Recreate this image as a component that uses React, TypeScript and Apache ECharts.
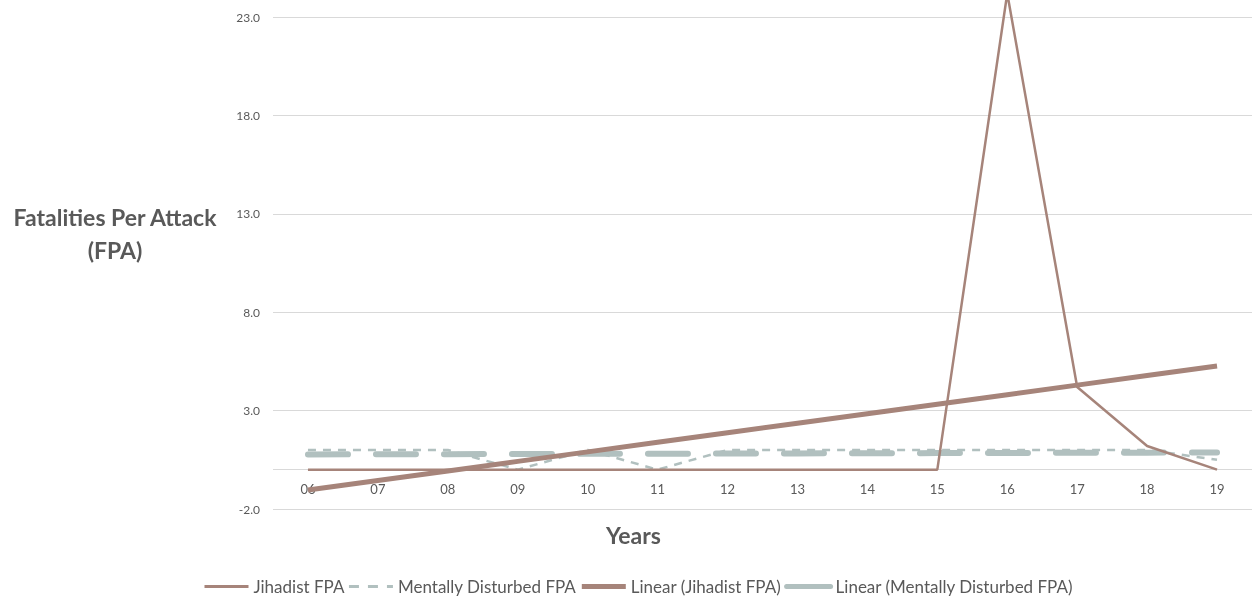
import React, { useEffect, useRef } from "react";
import * as echarts from "echarts";

const years = ["06", "07", "08", "09", "10", "11", "12", "13", "14", "15", "16", "17", "18", "19"];
const jihadistFPA = [0, 0, 0, 0, 0, 0, 0, 0, 0, 0, 24.2, 4.2, 1.2, 0];
const mentallyDisturbedFPA = [1, 1, 1, 0, 1, 0, 1, 1, 1, 1, 1, 1, 1, 0.5];

const BROWN = "#A6847A";
const GRAY = "#B1C0BF";
const TEXT = "#595959";
const FONT = "Lato, 'Open Sans', sans-serif";

function linearTrend(values: number[]): number[] {
  const n = values.length;
  const xs = values.map((_, i) => i);
  const mx = xs.reduce((a, b) => a + b, 0) / n;
  const my = values.reduce((a, b) => a + b, 0) / n;
  let sxy = 0;
  let sxx = 0;
  for (let i = 0; i < n; i++) {
    sxy += (xs[i] - mx) * (values[i] - my);
    sxx += (xs[i] - mx) * (xs[i] - mx);
  }
  const slope = sxy / sxx;
  const icpt = my - slope * mx;
  return xs.map((x) => +(icpt + slope * x).toFixed(4));
}

export default function App() {
  const ref = useRef<HTMLDivElement>(null);
  useEffect(() => {
    if (!ref.current) return;
    const chart = echarts.init(ref.current, undefined, { renderer: "svg" });
    chart.setOption({
      animation: false,
      textStyle: { fontFamily: FONT },
      grid: { left: 273, right: 0, top: 17, bottom: 92, containLabel: false },
      legend: {
        top: 573,
        left: 198,
        itemWidth: 44,
        itemHeight: 10,
        itemGap: 3,
        itemStyle: { opacity: 0 },
        textStyle: { color: TEXT, fontSize: 17, fontFamily: FONT },
        data: [
          { name: "Jihadist FPA", lineStyle: { width: 3 } },
          { name: "Mentally Disturbed FPA", lineStyle: { width: 3, type: [10, 9] } },
          { name: "Linear (Jihadist FPA)", lineStyle: { width: 5 } },
          { name: "Linear (Mentally Disturbed FPA)", lineStyle: { width: 5, type: "solid" } },
        ],
      },
      xAxis: {
        type: "category",
        data: years,
        boundaryGap: true,
        axisLine: { show: false, onZero: false },
        axisTick: { show: false },
        axisLabel: { color: TEXT, fontSize: 13, margin: -27, fontFamily: FONT },
        splitLine: { show: false },
      },
      yAxis: {
        type: "value",
        min: -2,
        max: 23,
        interval: 5,
        axisLine: { show: false },
        axisTick: { show: false },
        axisLabel: {
          color: TEXT,
          fontSize: 12,
          margin: 13,
          fontFamily: FONT,
          formatter: (v: number) => v.toFixed(1),
        },
        splitLine: { lineStyle: { color: "#D9D9D9", width: 1 } },
      },
      graphic: [
        {
          type: "text",
          left: 8,
          top: 200,
          style: {
            text: "Fatalities Per Attack\n(FPA)",
            fill: TEXT,
            font: `bold 23px ${FONT}`,
            textAlign: "center",
            lineHeight: 33,
            width: 214,
          },
        },
        {
          type: "text",
          left: 606,
          top: 523,
          style: { text: "Years", fill: TEXT, font: `bold 23px ${FONT}` },
        },
      ],
      series: [
        {
          name: "Mentally Disturbed FPA",
          type: "line",
          data: mentallyDisturbedFPA,
          symbol: "none",
          clip: false,
          lineStyle: { color: GRAY, width: 2.5, type: [8, 7] },
          itemStyle: { color: GRAY },
          markLine: {
            silent: true,
            symbol: "none",
            z: 1,
            label: { show: false },
            lineStyle: { color: "#D9D9D9", width: 1, type: "solid" },
            data: [{ yAxis: 0 }],
          },
          z: 2,
        },
        {
          name: "Linear (Mentally Disturbed FPA)",
          type: "line",
          data: linearTrend(mentallyDisturbedFPA),
          symbol: "none",
          clip: false,
          lineStyle: { color: GRAY, width: 6, type: [40, 28], cap: "round" },
          itemStyle: { color: GRAY },
          z: 3,
        },
        {
          name: "Jihadist FPA",
          type: "line",
          data: jihadistFPA,
          symbol: "none",
          clip: false,
          lineStyle: { color: BROWN, width: 2.5 },
          itemStyle: { color: BROWN },
          z: 4,
        },
        {
          name: "Linear (Jihadist FPA)",
          type: "line",
          data: linearTrend(jihadistFPA),
          symbol: "none",
          clip: false,
          lineStyle: { color: BROWN, width: 5 },
          itemStyle: { color: BROWN },
          z: 5,
        },
      ],
    });
    return () => chart.dispose();
  }, []);
  return <div ref={ref} style={{ position: "fixed", left: 0, top: 0, width: 1252, height: 601 }} />;
}
